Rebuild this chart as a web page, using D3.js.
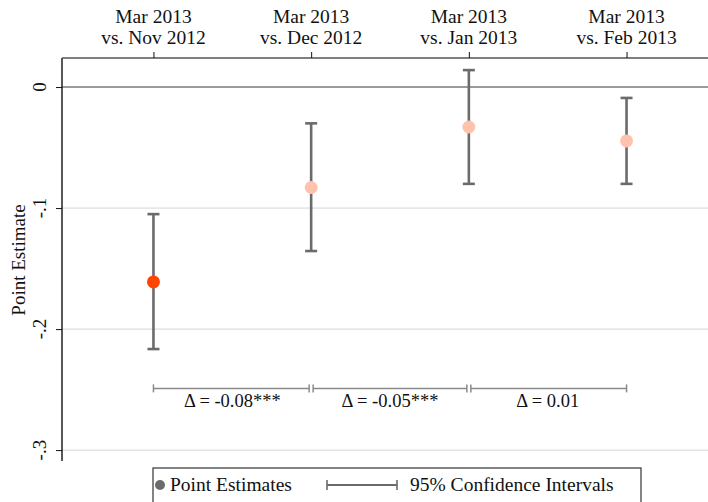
<!DOCTYPE html>
<html>
<head>
<meta charset="utf-8">
<script src="https://cdn.jsdelivr.net/npm/d3@7"></script>
<style>
  body { margin: 0; background: #fff; }
  text { font-family: "Liberation Serif", serif; fill: #111; }
</style>
</head>
<body>
<svg width="708" height="502"></svg>
<script>
// Point estimates with 95% CIs, March 2013 vs. earlier months
const labelTop = ["Mar 2013", "Mar 2013", "Mar 2013", "Mar 2013"];
const labelBottom = ["vs. Nov 2012", "vs. Dec 2012", "vs. Jan 2013", "vs. Feb 2013"];
const estimates = [-0.161, -0.083, -0.033, -0.0445];
const ciLow = [-0.2165, -0.1355, -0.080, -0.080];
const ciHigh = [-0.105, -0.030, 0.014, -0.009];
const pointColors = ["#ff4500", "#ffc3ad", "#ffc3ad", "#ffc3ad"];
const yTicks = [0, -0.1, -0.2, -0.3];
const yTickLabels = ["0", "-.1", "-.2", "-.3"];
const deltaLabels = ["\u0394 = -0.08***", "\u0394 = -0.05***", "\u0394 = 0.01"];
const deltaLevel = -0.249;

const svg = d3.select("svg"),
    width = parseInt(svg.attr("width")),
    height = parseInt(svg.attr("height"));

const plotLeft = 62, plotTop = 58, plotBottom = 461;

const x = d3.scalePoint()
            .domain(d3.range(estimates.length))
            .range([plotLeft, 718])
            .padding(0.58);

const y = d3.scaleLinear()
            .domain([-0.309, 0.024])
            .range([plotBottom, plotTop]);

// gridlines
svg.append("g")
   .selectAll("line")
   .data(yTicks.filter(d => d !== 0))
   .join("line")
   .attr("x1", plotLeft).attr("x2", width)
   .attr("y1", d => y(d)).attr("y2", d => y(d))
   .attr("stroke", "#d4d4d4").attr("stroke-width", 1);

// zero line
svg.append("line")
   .attr("x1", plotLeft).attr("x2", width)
   .attr("y1", y(0)).attr("y2", y(0))
   .attr("stroke", "#7a7a7a").attr("stroke-width", 1.6);

// left axis
const yAxis = svg.append("g")
   .attr("transform", `translate(${plotLeft},0)`)
   .call(d3.axisLeft(y).tickValues(yTicks).tickSize(6).tickFormat(""));
yAxis.select(".domain").attr("stroke", "#111").attr("stroke-width", 1.4)
     .attr("d", `M0,${plotTop}V${plotBottom}`);
yAxis.selectAll(".tick line").attr("stroke", "#111");

svg.append("g")
   .selectAll("text")
   .data(yTicks)
   .join("text")
   .attr("transform", d => `translate(46,${y(d)}) rotate(-90)`)
   .attr("text-anchor", "middle")
   .attr("font-size", 19)
   .text((d, i) => yTickLabels[i]);

svg.append("text")
   .attr("transform", `translate(25,260) rotate(-90)`)
   .attr("text-anchor", "middle")
   .attr("font-size", 19)
   .text("Point Estimate");

// top axis
const xAxis = svg.append("g")
   .attr("transform", `translate(0,${plotTop})`)
   .call(d3.axisTop(x).tickSize(6).tickFormat(""));
xAxis.select(".domain").attr("stroke", "#555").attr("stroke-width", 1.6)
     .attr("d", `M${plotLeft},0H${width}`);
xAxis.selectAll(".tick line").attr("stroke", "#111");

const xl = svg.append("g")
   .selectAll("text")
   .data(estimates.map((d, i) => i))
   .join("text")
   .attr("text-anchor", "middle")
   .attr("font-size", 19.5);
xl.append("tspan").attr("x", d => x(d)).attr("y", 23).text(d => labelTop[d]);
xl.append("tspan").attr("x", d => x(d)).attr("y", 44).text(d => labelBottom[d]);

// confidence intervals
const ci = svg.append("g").attr("stroke", "#6b6b6b").attr("stroke-width", 2.6);
estimates.forEach((d, i) => {
    ci.append("line").attr("x1", x(i)).attr("x2", x(i))
      .attr("y1", y(ciLow[i])).attr("y2", y(ciHigh[i]));
    [ciLow[i], ciHigh[i]].forEach(v => {
        ci.append("line").attr("x1", x(i) - 6).attr("x2", x(i) + 6)
          .attr("y1", y(v)).attr("y2", y(v));
    });
});

// point estimates
svg.append("g")
   .selectAll("circle")
   .data(estimates)
   .join("circle")
   .attr("cx", (d, i) => x(i))
   .attr("cy", d => y(d))
   .attr("r", 6.5)
   .attr("fill", (d, i) => pointColors[i]);

// difference brackets
const br = svg.append("g").attr("stroke", "#8a8a8a").attr("stroke-width", 1.5);
deltaLabels.forEach((lab, i) => {
    const x0 = x(i) + (i > 0 ? 2 : 0), x1 = x(i + 1) - (i < deltaLabels.length - 1 ? 2 : 0);
    const yy = y(deltaLevel);
    br.append("line").attr("x1", x0).attr("x2", x1).attr("y1", yy).attr("y2", yy);
    br.append("line").attr("x1", x0).attr("x2", x0).attr("y1", yy - 4).attr("y2", yy + 4);
    br.append("line").attr("x1", x1).attr("x2", x1).attr("y1", yy - 4).attr("y2", yy + 4);
    svg.append("text")
       .attr("x", (x(i) + x(i + 1)) / 2)
       .attr("y", yy + 19)
       .attr("text-anchor", "middle")
       .attr("font-size", 18.5)
       .text(lab);
});

// legend
const lg = svg.append("g");
lg.append("rect")
  .attr("x", 153).attr("y", 468).attr("width", 488).attr("height", 50)
  .attr("fill", "#fff").attr("stroke", "#333").attr("stroke-width", 1.2);
lg.append("circle").attr("cx", 160).attr("cy", 485).attr("r", 5).attr("fill", "#6b6b6b");
lg.append("text").attr("x", 170).attr("y", 491).attr("font-size", 19.5).text("Point Estimates");
lg.append("line").attr("x1", 327).attr("x2", 397).attr("y1", 485).attr("y2", 485)
  .attr("stroke", "#6b6b6b").attr("stroke-width", 2.2);
lg.append("line").attr("x1", 327).attr("x2", 327).attr("y1", 480).attr("y2", 490)
  .attr("stroke", "#6b6b6b").attr("stroke-width", 1.6);
lg.append("line").attr("x1", 397).attr("x2", 397).attr("y1", 480).attr("y2", 490)
  .attr("stroke", "#6b6b6b").attr("stroke-width", 1.6);
lg.append("text").attr("x", 410).attr("y", 491).attr("font-size", 19.5).text("95% Confidence Intervals");
</script>
</body>
</html>
